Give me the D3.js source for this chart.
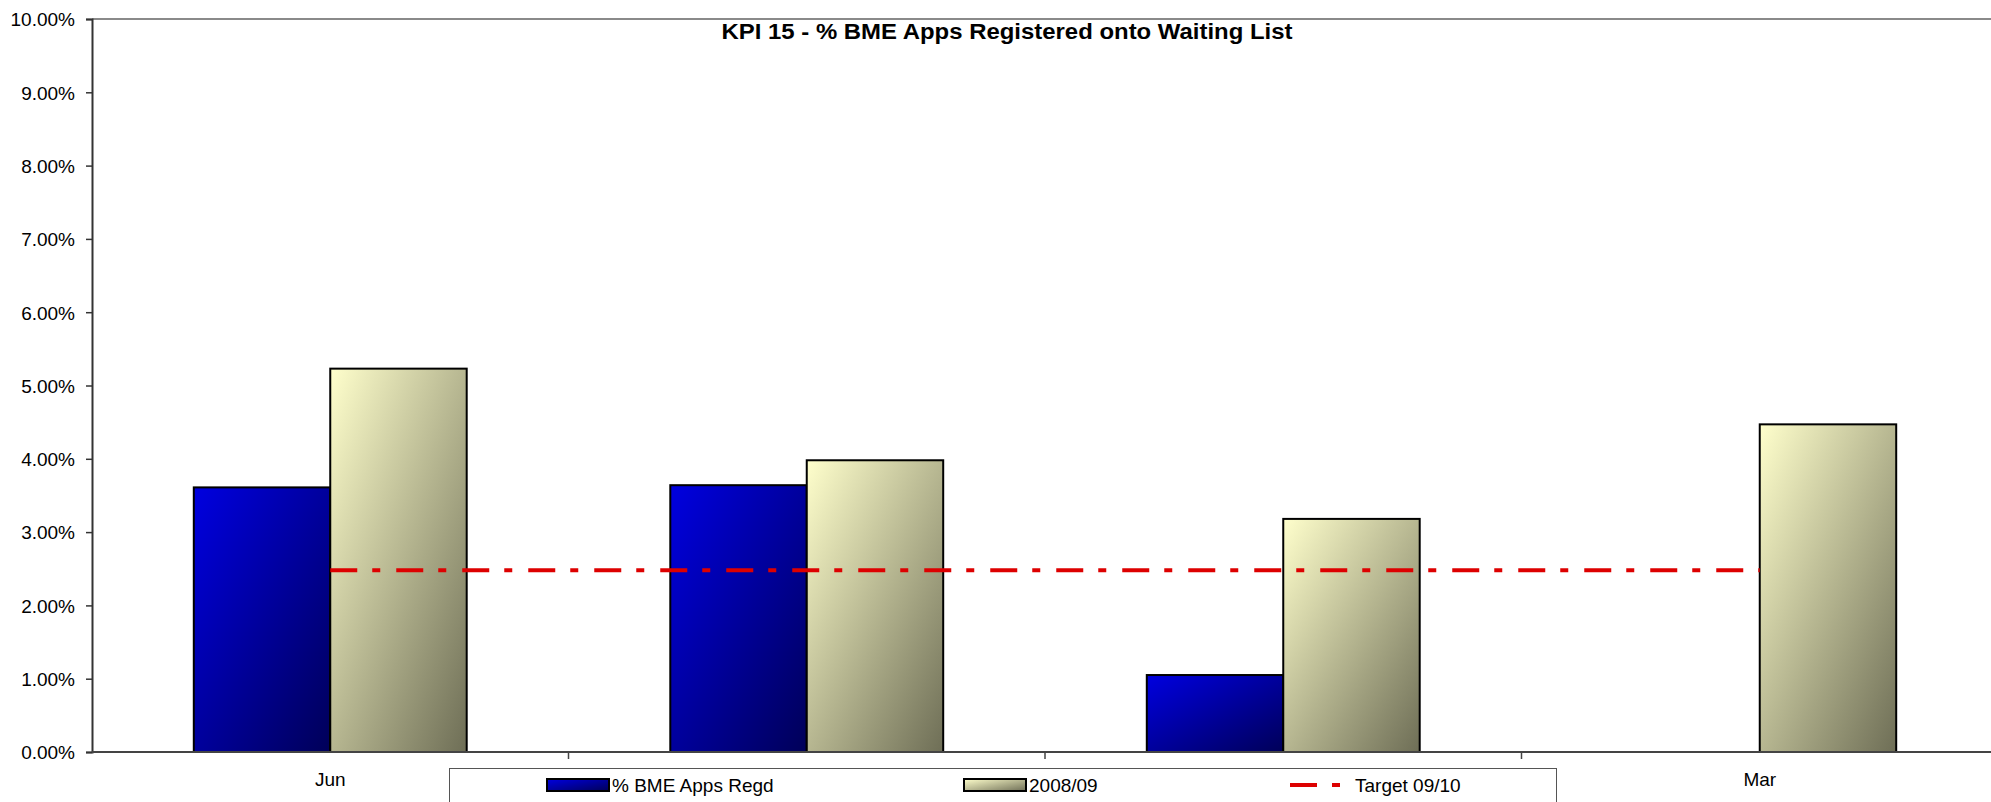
<!DOCTYPE html>
<html>
<head>
<meta charset="utf-8">
<script src="https://cdn.jsdelivr.net/npm/d3@7"></script>
<style>
  html, body { margin: 0; padding: 0; background: #fff; }
  svg { display: block; font-family: "Liberation Sans", Arial, sans-serif; }
</style>
</head>
<body>
<svg id="chart"></svg>
<script>
var width = 1991;
var height = 802;

// data (percent)
var categories = ['Jun', 'Sep', 'Dec', 'Mar'];
var seriesNames = ['% BME Apps Regd', '2008/09'];
var bmeRegd = [3.61, 3.64, 1.05, null];
var prevYear = [5.23, 3.98, 3.18, 4.47];
var target = [2.48, 2.48, 2.48, 2.48];
var targetName = 'Target 09/10';
var yTicks = [0, 1, 2, 3, 4, 5, 6, 7, 8, 9, 10];
var title = 'KPI 15 - % BME Apps Registered onto Waiting List';

var plotLeft = 92, plotRight = 1998, plotTop = 19, plotBottom = 752;

var svg = d3.select('#chart')
    .attr('width', width)
    .attr('height', height);

// gradients for the bars
var defs = svg.append('defs');
function addGrad(id, c0, c1) {
  var gr = defs.append('linearGradient')
      .attr('id', id)
      .attr('x1', 0).attr('y1', 0).attr('x2', 1).attr('y2', 1);
  gr.append('stop').attr('offset', '0%').attr('stop-color', c0);
  gr.append('stop').attr('offset', '100%').attr('stop-color', c1);
}
addGrad('gBlue', '#0000e0', '#000058');
addGrad('gBeige', '#ffffcc', '#6e6e56');
var fills = ['url(#gBlue)', 'url(#gBeige)'];

var x = d3.scaleBand()
    .domain(categories)
    .range([plotLeft, plotRight])
    .paddingInner(0).paddingOuter(0);

var x1 = d3.scaleBand()
    .domain([0, 1])
    .range([0, x.bandwidth()])
    .paddingInner(0).paddingOuter(0.746);

var y = d3.scaleLinear()
    .domain([0, 10])
    .range([plotBottom, plotTop]);

// top border of plot area
svg.append('line')
    .attr('x1', plotLeft).attr('x2', width)
    .attr('y1', plotTop).attr('y2', plotTop)
    .attr('stroke', '#8a8a8a').attr('stroke-width', 2);

// bars
var rows = categories.map(function (c, i) {
  return { cat: c, vals: [bmeRegd[i], prevYear[i]] };
});

var groups = svg.append('g').selectAll('g')
    .data(rows)
    .enter()
    .append('g')
    .attr('transform', function (d) { return 'translate(' + x(d.cat) + ',0)'; });

groups.selectAll('rect')
    .data(function (d) {
      return d.vals.map(function (v, k) { return { k: k, v: v }; })
                   .filter(function (e) { return e.v != null; });
    })
    .enter()
    .append('rect')
    .attr('x', function (d) { return x1(d.k); })
    .attr('y', function (d) { return y(d.v); })
    .attr('width', x1.bandwidth())
    .attr('height', function (d) { return y(0) - y(d.v); })
    .attr('fill', function (d) { return fills[d.k]; })
    .attr('stroke', '#000')
    .attr('stroke-width', 2);

// y axis
var yAxis = d3.axisLeft(y)
    .tickValues(yTicks)
    .tickSize(6)
    .tickFormat(function (d) { return d.toFixed(2) + '%'; });

var gy = svg.append('g')
    .attr('transform', 'translate(' + plotLeft + ',0)')
    .call(yAxis);
gy.select('.domain').attr('stroke', '#333').attr('stroke-width', 2);
gy.selectAll('.tick line').attr('stroke', '#333').attr('stroke-width', 1.5);
gy.selectAll('.tick text')
    .attr('x', -17)
    .attr('dy', '0.36em')
    .style('font-size', '19px')
    .attr('fill', '#000');

// x axis (ticks between categories)
var gx = svg.append('g')
    .attr('transform', 'translate(0,' + plotBottom + ')');
gx.append('line')
    .attr('x1', plotLeft).attr('x2', width)
    .attr('y1', 0).attr('y2', 0)
    .attr('stroke', '#444').attr('stroke-width', 2);
gx.selectAll('line.tk')
    .data(categories.slice(1))
    .enter()
    .append('line')
    .attr('class', 'tk')
    .attr('x1', function (d) { return x(d); })
    .attr('x2', function (d) { return x(d); })
    .attr('y1', 0).attr('y2', 7)
    .attr('stroke', '#444').attr('stroke-width', 1.5);
gx.selectAll('text')
    .data(categories)
    .enter()
    .append('text')
    .attr('x', function (d) { return x(d) + x.bandwidth() / 2; })
    .attr('y', 34)
    .attr('text-anchor', 'middle')
    .style('font-size', '19px')
    .text(function (d) { return d; });

// target line
var dash = '27,15,8,16';
var line = d3.line()
    .x(function (d, i) { return x(categories[i]) + x.bandwidth() / 2; })
    .y(function (d) { return y(d); });

svg.append('path')
    .datum(target)
    .attr('d', line)
    .attr('fill', 'none')
    .attr('stroke', '#dd0000')
    .attr('stroke-width', 4)
    .attr('stroke-dasharray', dash);

// title
svg.append('text')
    .attr('x', 1007)
    .attr('y', 39)
    .attr('text-anchor', 'middle')
    .attr('textLength', 571)
    .attr('lengthAdjust', 'spacingAndGlyphs')
    .style('font-size', '22px')
    .style('font-weight', 'bold')
    .text(title);

// legend
var lg = svg.append('g');
lg.append('rect')
    .attr('x', 449.5).attr('y', 768.5)
    .attr('width', 1107).attr('height', 60)
    .attr('fill', '#fff')
    .attr('stroke', '#555').attr('stroke-width', 1);

var legendX = [547, 964];
seriesNames.forEach(function (name, k) {
  lg.append('rect')
      .attr('x', legendX[k]).attr('y', 779)
      .attr('width', 62).attr('height', 12)
      .attr('fill', fills[k])
      .attr('stroke', '#000').attr('stroke-width', 2);
  lg.append('text')
      .attr('x', legendX[k] + 65).attr('y', 792)
      .style('font-size', '19px')
      .text(name);
});
lg.append('line')
    .attr('x1', 1290).attr('x2', 1340)
    .attr('y1', 785).attr('y2', 785)
    .attr('stroke', '#dd0000').attr('stroke-width', 4)
    .attr('stroke-dasharray', dash);
lg.append('text')
    .attr('x', 1355).attr('y', 792)
    .style('font-size', '19px')
    .text(targetName);
</script>
</body>
</html>
